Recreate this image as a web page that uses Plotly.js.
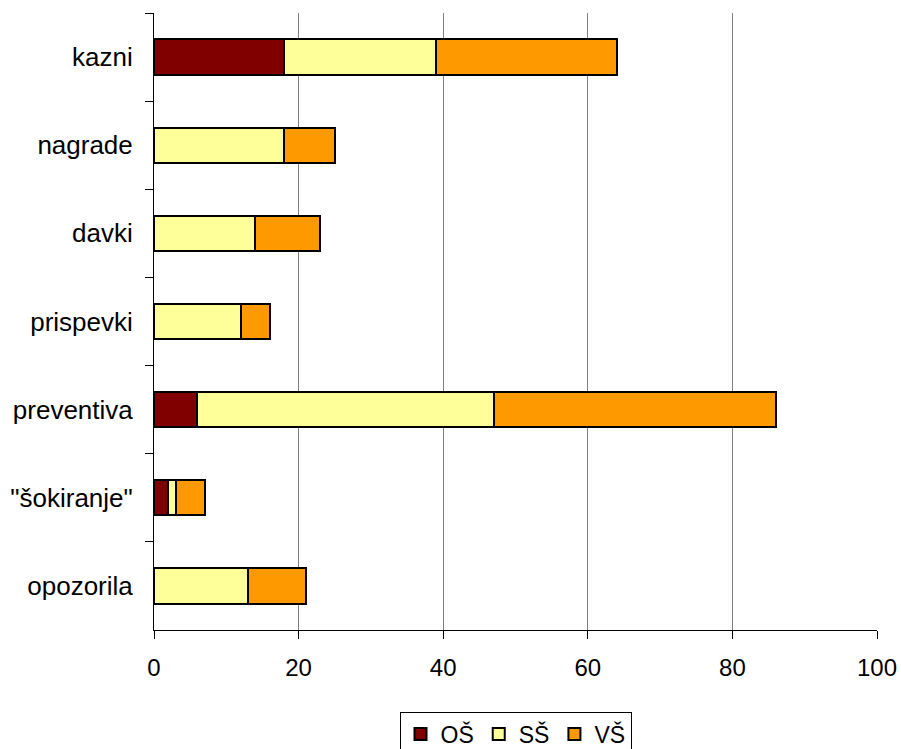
<!DOCTYPE html>
<html>
<head>
<meta charset="utf-8">
<script src="https://cdn.plot.ly/plotly-3.0.1.min.js"></script>
<style>
  html, body { margin: 0; padding: 0; background: #fff; }
  #chart { width: 901px; height: 749px; }
</style>
</head>
<body>
<div id="chart"></div>
<script>
// Categories, listed top to bottom
const categories = ['kazni', 'nagrade', 'davki', 'prispevki', 'preventiva', '"šokiranje"', 'opozorila'];
// Values per school level
const osValues = [18, 0, 0, 0, 6, 2, 0];
const ssValues = [21, 18, 14, 12, 41, 1, 13];
const vsValues = [25, 7, 9, 4, 39, 4, 8];
const seriesNames = ['OŠ', 'SŠ', 'VŠ'];
const xTicks = [0, 20, 40, 60, 80, 100];

const colors = ['#800000', '#FFFF99', '#FF9900'];
const seriesValues = [osValues, ssValues, vsValues];

const traces = seriesValues.map((vals, i) => ({
  type: 'bar',
  orientation: 'h',
  name: seriesNames[i],
  y: categories,
  x: vals,
  marker: { color: colors[i], line: { color: '#000', width: 2 } },
  hoverinfo: 'x+y+name'
}));

const layout = {
  width: 901,
  height: 749,
  margin: { l: 154, r: 24, t: 13, b: 119, pad: 0, autoexpand: false },
  paper_bgcolor: '#fff',
  plot_bgcolor: '#fff',
  barmode: 'stack',
  bargap: 0.6,
  font: { family: 'Liberation Sans, Arial, sans-serif', size: 24, color: '#000' },
  xaxis: {
    range: [0, 100],
    tickvals: xTicks,
    ticktext: xTicks.map(String),
    showgrid: true,
    gridcolor: '#808080',
    gridwidth: 1,
    zeroline: false,
    showline: true,
    linecolor: '#000',
    linewidth: 1,
    ticks: 'outside',
    ticklen: 8,
    tickcolor: '#000',
    ticklabelstandoff: 8,
    tickfont: { size: 24 }
  },
  yaxis: {
    type: 'category',
    autorange: 'reversed',
    tickson: 'boundaries',
    ticks: 'outside',
    ticklen: 8,
    tickcolor: '#000',
    showline: true,
    linecolor: '#000',
    linewidth: 1,
    showgrid: false,
    zeroline: false,
    ticklabelstandoff: 15,
    tickfont: { size: 26 }
  },
  showlegend: true,
  legend: {
    orientation: 'h',
    x: 0.5,
    xref: 'paper',
    xanchor: 'center',
    yref: 'container',
    y: 0.05,
    yanchor: 'top',
    bordercolor: '#000',
    borderwidth: 1,
    bgcolor: '#fff',
    font: { size: 23 },
    traceorder: 'normal',
    itemwidth: 30,
    tracegroupgap: 0
  }
};

Plotly.newPlot('chart', traces, layout, { displayModeBar: false, staticPlot: true });
</script>
</body>
</html>
